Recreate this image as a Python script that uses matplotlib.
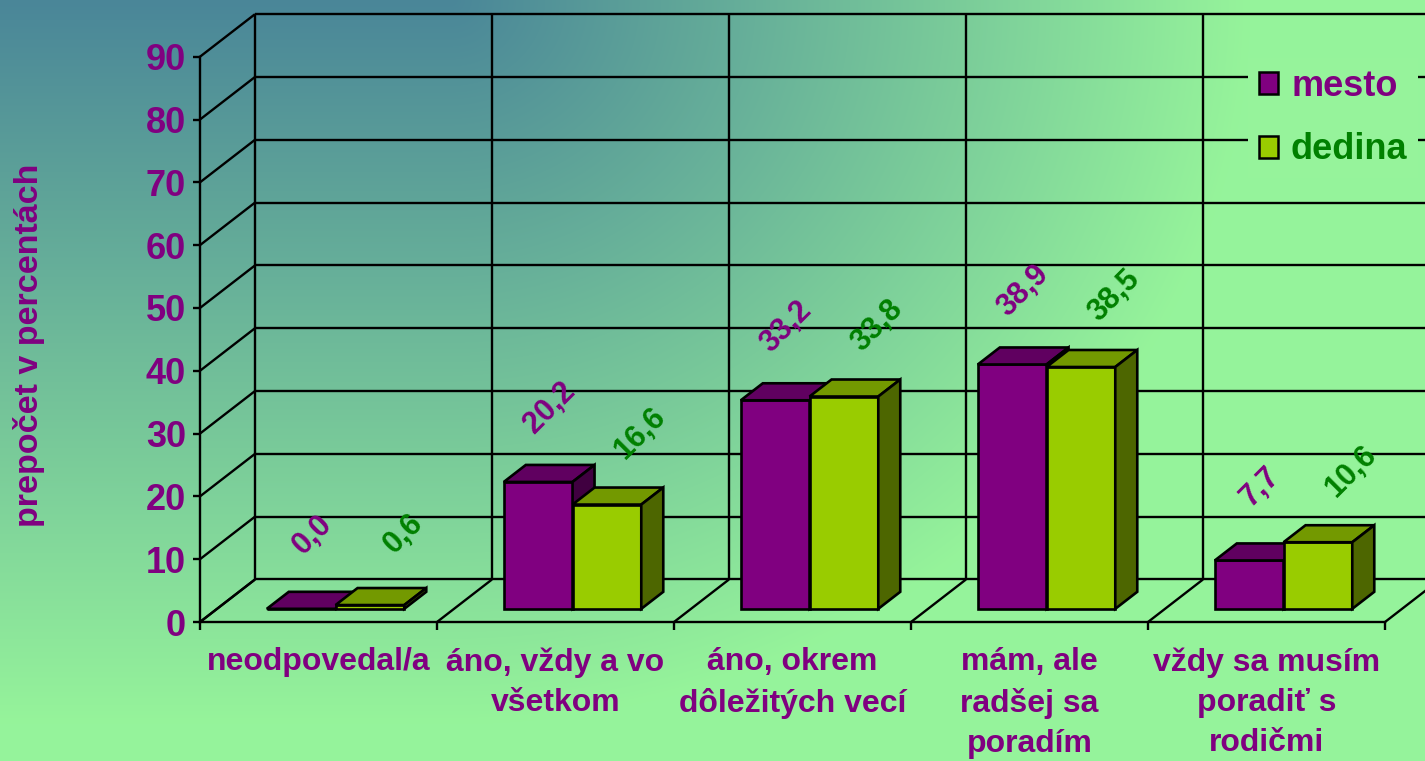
import numpy as np
import matplotlib
matplotlib.use("Agg")
import matplotlib.pyplot as plt
from matplotlib.patches import Patch, Polygon

plt.rcParams["font.family"] = ["Liberation Sans", "DejaVu Sans"]
plt.rcParams["font.weight"] = "bold"

categories = [
    "neodpovedal/a",
    "áno, vždy a vo\nvšetkom",
    "áno, okrem\ndôležitých vecí",
    "mám, ale\nradšej sa\nporadím",
    "vždy sa musím\nporadiť s\nrodičmi",
]
series_names = ["mesto", "dedina"]
mesto = [0.0, 20.2, 33.2, 38.9, 7.7]
dedina = [0.6, 16.6, 33.8, 38.5, 10.6]
yticks = [0, 10, 20, 30, 40, 50, 60, 70, 80, 90]
ylabel = "prepočet v percentách"

PURPLE = "#800080"
GREEN_TXT = "#008000"
face_colors = [("#800080", "#600060", "#400040"), ("#99cc00", "#739900", "#4d6600")]
label_colors = [PURPLE, GREEN_TXT]
label_offsets = [(8, 53), (24, 51)]

W, H = 1425, 761
fig = plt.figure(figsize=(W / 100, H / 100), dpi=100)

# background gradient (dark teal in the top-left corner, light green elsewhere)
bg = fig.add_axes([0, 0, 1, 1], zorder=-10)
xx, yy = np.meshgrid(np.arange(W), np.arange(H))
t = np.sqrt((np.clip(xx - 450, 0, None) / 800.0) ** 2 + (yy / 724.0) ** 2)
t = np.clip(t, 0, 1)[..., None]
c0 = np.array([74, 134, 152]) / 255.0
c1 = np.array([150, 244, 155]) / 255.0
bg.imshow(c0 + (c1 - c0) * t, extent=[0, 1, 0, 1], aspect="auto", origin="upper")
bg.axis("off")

# front plane of the 3d chart
left, right, bottom, top = 200, 1385, 622, 56.7
ax = fig.add_axes([left / W, (H - bottom) / H, (right - left) / W, (bottom - top) / H])
ax.set_xlim(0, 5)
ax.set_ylim(0, 90)
ax.patch.set_visible(False)
for s in ["top", "right"]:
    ax.spines[s].set_visible(False)
for s in ["left", "bottom"]:
    ax.spines[s].set_linewidth(1.7)

DX, DY = 0.232, 6.77  # depth of the floor / side wall in data units
lw = 1.7
kw = dict(color="black", lw=lw, clip_on=False, zorder=1, solid_capstyle="butt")
for v in yticks:
    ax.plot([0, DX], [v, v + DY], **kw)
    ax.plot([DX, 5 + DX + 0.2], [v + DY, v + DY], **kw)
for k in range(6):
    ax.plot([k + DX, k + DX], [DY, 90 + DY], **kw)
    ax.plot([k, k + DX], [0, DY], **kw)

# bars
d0, dd, bw = 0.31, 0.40, 0.29
for j, vals in enumerate([mesto, dedina]):
    front, topc, side = face_colors[j]
    for i, v in enumerate(vals):
        xl = i + 0.21 + j * bw + d0 * DX
        b = d0 * DY
        z = 3 + i * 2 + j
        ax.bar(xl, v, width=bw, bottom=b, align="edge", color=front,
               edgecolor="black", linewidth=1.9, zorder=z, clip_on=False)
        ax.add_patch(Polygon([(xl, b + v), (xl + bw, b + v), (xl + bw + dd * DX, b + v + dd * DY),
                              (xl + dd * DX, b + v + dd * DY)], closed=True, facecolor=topc,
                             edgecolor="black", lw=1.9, zorder=z, clip_on=False, joinstyle="miter"))
        ax.add_patch(Polygon([(xl + bw, b), (xl + bw, b + v), (xl + bw + dd * DX, b + v + dd * DY),
                              (xl + bw + dd * DX, b + dd * DY)], closed=True, facecolor=side,
                             edgecolor="black", lw=1.9, zorder=z, clip_on=False, joinstyle="miter"))
        ax.annotate(f"{v:.1f}".replace(".", ","), (xl + bw / 2, b + v),
                    xytext=label_offsets[j], textcoords="offset points", rotation=45,
                    ha="center", va="center", fontsize=22, fontweight="bold",
                    color=label_colors[j], zorder=20, annotation_clip=False)

# axes ticks and labels
ax.set_yticks(yticks)
ax.set_yticklabels([str(v) for v in yticks])
ax.tick_params(axis="y", direction="out", length=5, width=lw, pad=5,
               labelsize=26, labelcolor=PURPLE)
ax.set_xticks(range(6))
ax.set_xticklabels([""] * 6)
ax.tick_params(axis="x", which="major", direction="out", length=6, width=lw)
ax.set_xticks([i + 0.5 for i in range(5)], categories, minor=True)
ax.tick_params(axis="x", which="minor", length=0, pad=18, labelsize=23, labelcolor=PURPLE)
for lab in ax.get_xticklabels(minor=True):
    lab.set_linespacing(1.45)
    lab.set_fontweight("bold")
for lab in ax.get_yticklabels():
    lab.set_fontweight("bold")

fig.text(29 / W, 1 - 345 / H, ylabel, rotation=90, ha="center", va="center",
         fontsize=24.5, fontweight="bold", color=PURPLE)

handles = [Patch(facecolor=face_colors[j][0], edgecolor="black", linewidth=1.8) for j in range(2)]
leg = fig.legend(handles, series_names, loc="center", bbox_to_anchor=(1333 / W, 1 - 118 / H),
                 prop={"size": 26, "weight": "bold"}, handlelength=0.55, handleheight=0.55,
                 handletextpad=0.35, labelspacing=0.8, borderpad=0.3,
                 frameon=True, fancybox=False)
leg.get_frame().set_facecolor("#96f39b")
leg.get_frame().set_edgecolor("none")
leg.get_frame().set_alpha(1)
for txt, c in zip(leg.get_texts(), label_colors):
    txt.set_color(c)

fig.savefig("out.png", dpi=100)
